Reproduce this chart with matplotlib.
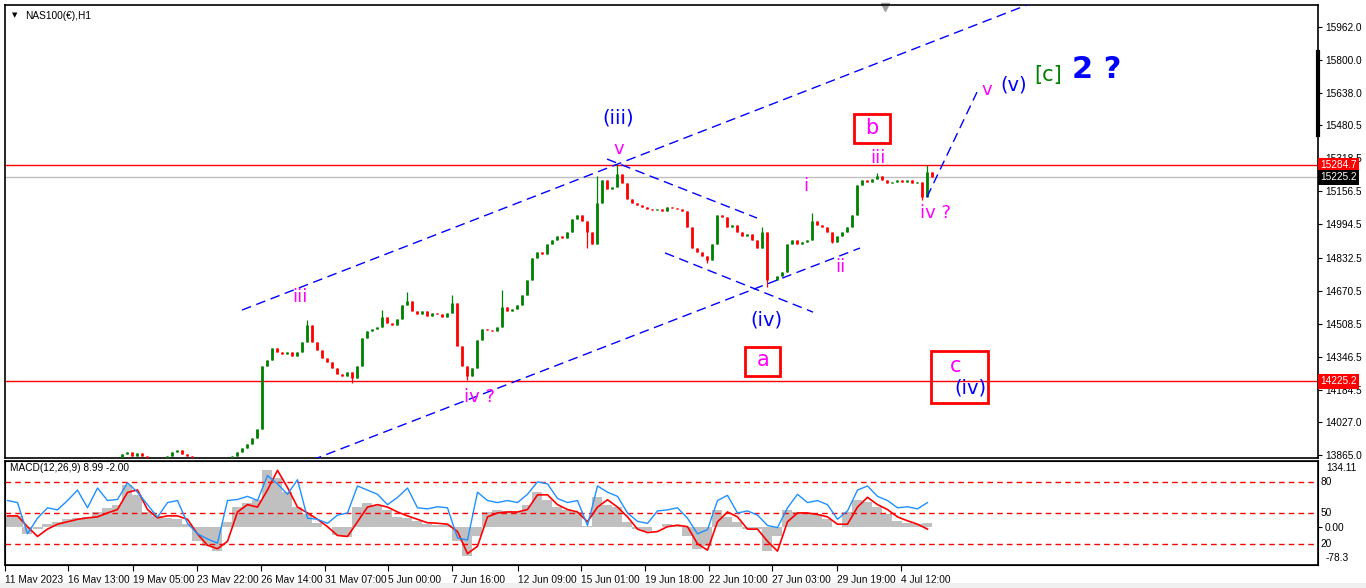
import numpy as np
import matplotlib.pyplot as plt
import matplotlib.transforms as mtransforms
from matplotlib.patches import Rectangle

# hourly NAS100 price, sampled about every 3 bars (closes)
closes = [
    13760, 13740, 13770, 13780, 13750, 13730, 13760, 13790, 13770, 13750,
    13740, 13760, 13780, 13800, 13790, 13770, 13780, 13800, 13820, 13810,
    13800, 13820, 13840, 13870, 13880, 13860, 13875, 13860, 13830, 13815,
    13820, 13810, 13860, 13880, 13890, 13870, 13860, 13820, 13810, 13800,
    13790, 13800, 13810, 13820, 13830, 13860, 13880, 13900, 13920, 13950,
    13990, 14300, 14330, 14390, 14370, 14360, 14370, 14350, 14370, 14420,
    14500, 14420, 14380, 14340, 14320, 14290, 14260, 14250, 14270, 14240,
    14300, 14440, 14470, 14480, 14490, 14540, 14510, 14500, 14530, 14600,
    14620, 14570, 14555, 14570, 14545, 14560, 14555, 14540, 14560, 14610,
    14400, 14300, 14250, 14290, 14430, 14480, 14475, 14470, 14490, 14590,
    14570, 14580, 14600, 14650, 14720, 14830, 14860, 14850, 14900, 14920,
    14940, 14930, 14960, 15020, 15040, 15010, 14960, 14900, 15100, 15210,
    15170, 15180, 15240, 15200, 15120, 15100, 15090, 15080, 15070, 15065,
    15070, 15060, 15080, 15075, 15070, 15060, 14980, 14880, 14860, 14840,
    14820, 14900, 15040, 15030, 14980, 14990, 14960, 14940, 14950, 14920,
    14880, 14960, 14720, 14720, 14740, 14760, 14900, 14920, 14900, 14910,
    14920, 15010, 14990, 14980, 14960, 14910, 14940, 14960, 14980, 15040,
    15190, 15210, 15205, 15215, 15230, 15210, 15200, 15205, 15210, 15205,
    15210, 15200, 15205, 15130, 15250, 15225,
]
spike_high = {60: 14526, 75: 14575, 80: 14663, 89: 14650, 99: 14675, 118: 15230,
              122: 15286, 151: 14982, 161: 15050, 174: 15247, 184: 15286}
spike_low = {69: 14218, 92: 14232, 116: 14880, 140: 14805, 152: 14688,
             165: 14903, 183: 15115}

# indicator panel, one value every 2 price samples
macd_hist = [
    22, 22, -15, -5, 5, 10, 15, 18, 20, 30, 38, 45, 85, 65, 30, 22, 18, 15, 5, -30,
    -40, -50, 10, 40, 48, 55, 115, 100, 70, 40, 25, 8, 0, -18, -22, 40, 48, 42, 35, 20,
    18, 12, 5, 4, 3, -30, -60, -20, 30, 35, 32, 30, 45, 70, 55, 40, 35, 30, 2, 60,
    45, 40, 10, -5, -8, 0, 5, 3, -20, -45, -40, 35, 20, 10, -5, -5, -50, -20, 35, 30,
    28, 25, 15, 0, 30, 55, 50, 40, 25, 12, 8, 5, 8,
]
macd_signal = [
    22, 22, 0, -20, -5, 5, 10, 15, 18, 20, 28, 35, 70, 75, 35, 18, 22, 22, 15, -15,
    -38, -45, -30, 30, 45, 40, 75, 115, 80, 40, 28, 15, 0, -18, -20, 10, 40, 45, 40, 30,
    22, 15, 8, 7, 5, -10, -55, -40, 20, 28, 30, 30, 35, 65, 65, 45, 35, 30, 10, 40,
    55, 40, 20, -5, -12, -10, 0, 3, 0, -35, -48, 10, 30, 20, -5, -5, -30, -50, 10, 28,
    28, 25, 20, 5, 5, 40, 60, 45, 35, 20, 12, 5, -5,
]
rsi = [
    62, 60, 30, 45, 55, 53, 62, 72, 55, 74, 62, 63, 79, 70, 58, 46, 60, 62, 40, 30,
    25, 21, 62, 63, 66, 62, 86, 78, 68, 82, 45, 44, 40, 48, 50, 76, 72, 68, 58, 65,
    74, 55, 54, 56, 55, 26, 24, 70, 62, 60, 62, 60, 68, 80, 78, 64, 60, 62, 38, 76,
    70, 66, 50, 42, 40, 52, 53, 55, 45, 30, 34, 62, 67, 50, 52, 48, 38, 36, 55, 68,
    60, 62, 58, 44, 52, 72, 76, 66, 62, 55, 56, 54, 60,
]

price_ticks = [15962.0, 15800.0, 15638.0, 15480.5, 15318.5, 15156.5, 14994.5,
               14832.5, 14670.5, 14508.5, 14346.5, 14184.5, 14027.0, 13865.0]
time_labels = ['11 May 2023', '16 May 13:00', '19 May 05:00', '23 May 22:00',
               '26 May 14:00', '31 May 07:00', '5 Jun 00:00', '7 Jun 16:00',
               '12 Jun 09:00', '15 Jun 01:00', '19 Jun 18:00', '22 Jun 10:00',
               '27 Jun 03:00', '29 Jun 19:00', '4 Jul 12:00']
time_pos = [-0.5, 12.1, 25.1, 37.9, 50.7, 63.5, 76.1, 88.9, 102.1, 114.7, 127.5,
            140.3, 152.9, 165.9, 178.7]

plt.rcParams['font.family'] = 'DejaVu Sans'
AXFONT = 'Liberation Sans'
AXSIZE = 7.3

fig = plt.figure(figsize=(13.66, 5.88), dpi=100)
fig.patches.append(Rectangle((0, 0), 1, 5 / 588, transform=fig.transFigure,
                             color='#f0f0f0', zorder=0))

ax = fig.add_axes([5 / 1366, 130 / 588, 1313 / 1366, 453 / 588])
mx = fig.add_axes([5 / 1366, 23 / 588, 1313 / 1366, 104 / 588])
XMAX = 262.1
for a in (ax, mx):
    a.set_xlim(-0.5, XMAX)
    for s in a.spines.values():
        s.set_linewidth(1.2)
ax.set_ylim(13850, 16070)

# candles
n = len(closes)
idx = np.arange(n)
opens = [closes[0]] + closes[:-1]
hi = [spike_high.get(i, max(o, c)) for i, (o, c) in enumerate(zip(opens, closes))]
lo = [spike_low.get(i, min(o, c)) for i, (o, c) in enumerate(zip(opens, closes))]
cols = ['#008000' if c >= o else '#ff0000' for o, c in zip(opens, closes)]
ax.vlines(idx, lo, hi, colors=cols, lw=0.9, zorder=3)
ax.vlines(idx, np.minimum(opens, closes), np.maximum(opens, closes),
          colors=cols, lw=2.0, zorder=3)

# horizontal levels
ax.axhline(15284.7, color='#ff0000', lw=1, zorder=2)
ax.axhline(15225.2, color='#c0c0c0', lw=1, zorder=2)
ax.axhline(14225.2, color='#ff0000', lw=1, zorder=2)

# wave drawings
dash = (0, (7, 4))
lines = [((46.9, 14575), (203.9, 16070)), ((60.9, 13840), (170.5, 14879)),
         ((119.9, 15315), (149.9, 15026)), ((131.5, 14855), (161.1, 14565)),
         ((183.9, 15129), (193.9, 15643))]
for (x0, y0), (x1, y1) in lines:
    ax.plot([x0, x1], [y0, y1], color='#0000ff', lw=1, ls=dash, zorder=4)

mag = '#ff00ff'
blu = '#0000ff'
labels = [('iii', 58.5, 14639, mag, 13), ('iv ?', 94.5, 14149, mag, 13),
          ('(iii)', 122.1, 15516, blu, 14), ('v', 122.3, 15364, mag, 13),
          ('(iv)', 151.7, 14526, blu, 14), ('i', 159.7, 15183, mag, 13),
          ('ii', 166.5, 14786, mag, 13), ('iii', 174.1, 15320, mag, 13),
          ('iv ?', 185.7, 15051, mag, 13), ('v', 195.9, 15653, mag, 13),
          ('(v)', 201.3, 15678, blu, 14), ('b', 172.9, 15465, mag, 15),
          ('a', 151.1, 14330, mag, 15), ('c', 189.7, 14301, mag, 15),
          ('(iv)', 192.5, 14193, blu, 14)]
for t, x, y, c, fs in labels:
    ax.text(x, y, t, color=c, fontsize=fs, ha='center', va='center', zorder=5)
ax.text(208.1, 15727, '[c]', color='#008000', fontsize=15, ha='center', va='center')
ax.text(213.0, 15756, '2 ?', color=blu, fontsize=22, fontweight='bold',
        ha='left', va='center')
for (x0, y0, x1, y1) in [(169.3, 15394, 176.5, 15536), (147.5, 14252, 154.5, 14394),
                         (184.7, 14120, 196.1, 14374)]:
    ax.add_patch(Rectangle((x0, y0), x1 - x0, y1 - y0, fill=False,
                           edgecolor='#ff0000', lw=2, zorder=5))

# price axis on the right
ax.yaxis.tick_right()
ax.set_yticks(price_ticks)
ax.set_yticklabels([f'{v:.1f}' for v in price_ticks], family=AXFONT)
ax.tick_params(axis='y', labelsize=AXSIZE, length=3, pad=2)
ax.set_xticks([])
tr = mtransforms.blended_transform_factory(ax.transAxes, ax.transData)
for v, bg in [(15284.7, '#ff0000'), (15225.2, '#000000'), (14225.2, '#ff0000')]:
    ax.text(1.002, v, f'{v:.1f}', transform=tr, color='white', fontsize=AXSIZE,
            family=AXFONT, va='center', ha='left', zorder=10, clip_on=False,
            bbox=dict(facecolor=bg, edgecolor='none', pad=1.5))
ax.plot([1, 1], [0.713, 0.896], transform=ax.transAxes, color='black', lw=3,
        clip_on=False, zorder=10)
ax.plot([0.6705], [0.995], marker='v', color='#a0a0a0', ms=6,
        transform=ax.transAxes, clip_on=False)
ax.text(0.005, 0.984, '\u25bc', transform=ax.transAxes, fontsize=5, va='top')
ax.text(0.015, 0.987, 'NAS100(\u20ac),H1', transform=ax.transAxes,
        fontsize=AXSIZE, family=AXFONT, va='top')

# MACD + RSI panel
kx = np.arange(len(macd_hist)) * 2
mx.set_ylim(-78.3, 134.11)
mx.bar(kx, macd_hist, width=2.0, color='#c0c0c0', zorder=1)
mx.plot(kx, macd_signal, color='#ff0000', lw=1.2, zorder=3)
rx = mx.twinx()
rx.set_ylim(0, 100)
rx.set_yticks([])
rx.plot(kx, rsi, color='#1e90ff', lw=1, zorder=4)
for lv in (20, 50, 80):
    rx.axhline(lv, color='#ff0000', lw=1, ls=(0, (4, 3)))
mx.yaxis.tick_right()
mx.set_yticks([0])
mx.set_yticklabels(['0.00'], family=AXFONT)
mx.tick_params(axis='y', labelsize=AXSIZE, length=3, pad=2)
trm = mtransforms.blended_transform_factory(mx.transAxes, rx.transData)
for lv in (80, 50, 20):
    mx.text(1.002, lv, str(lv), transform=trm, fontsize=AXSIZE, family=AXFONT,
            va='center')
mx.text(1.006, 0.93, '134.11', transform=mx.transAxes, fontsize=AXSIZE,
        family=AXFONT, va='center')
mx.text(1.006, 0.065, '-78.3', transform=mx.transAxes, fontsize=AXSIZE,
        family=AXFONT, va='center')
mx.text(0.004, 0.93, 'MACD(12,26,9) 8.99 -2.00', transform=mx.transAxes,
        fontsize=AXSIZE, family=AXFONT, va='center')

mx.set_xticks(time_pos)
mx.set_xticklabels(time_labels, ha='left', family=AXFONT)
mx.tick_params(axis='x', labelsize=AXSIZE, length=4, pad=3, direction='out')

fig.savefig('out.png', dpi=100)
